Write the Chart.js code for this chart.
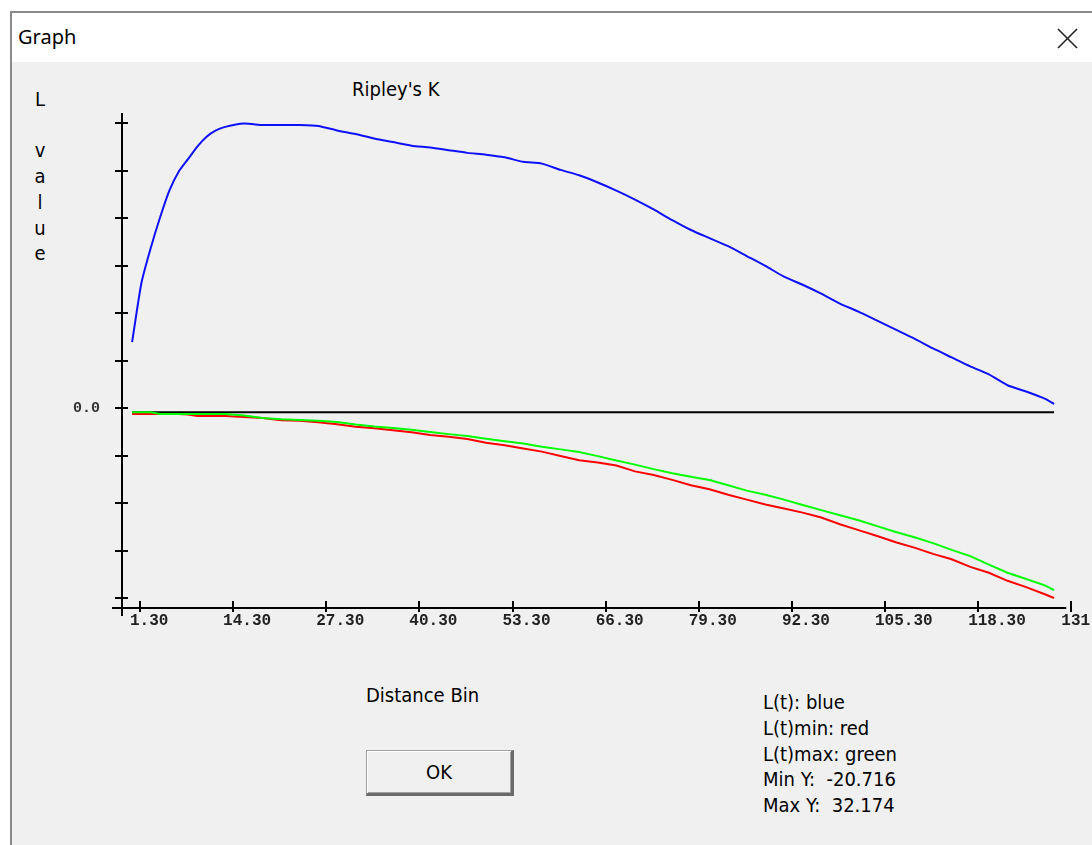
<!DOCTYPE html>
<html>
<head>
<meta charset="utf-8">
<script src="https://cdn.jsdelivr.net/npm/chart.js@4.4.1/dist/chart.umd.min.js"></script>
<style>
html,body{margin:0;padding:0;width:1092px;height:845px;overflow:hidden;background:#ffffff;}
.abs{position:absolute;}
#frame{left:10px;top:11px;width:1100px;height:850px;background:#f0f0f0;border-left:2px solid #8a8a8a;border-top:2px solid #8a8a8a;}
#titlebar{left:12px;top:13px;width:1090px;height:49px;background:#ffffff;}
#wtitle{left:18px;top:23px;font:20px "Noto Sans",sans-serif;color:#000;}
#closex{left:1056px;top:27px;}
.ui{font-family:"DejaVu Sans",sans-serif;font-stretch:condensed;font-size:20px;color:#000;white-space:pre;}
#ctitle{left:352px;top:77px;}
#ylab{left:30px;top:87px;width:20px;text-align:center;line-height:25.7px;}
#xlab{left:366px;top:683px;}
#legend{left:763px;top:690px;line-height:25.8px;}
#okbtn{left:366px;top:750px;width:144px;height:42px;background:#f0f0f0;border-top:1px solid #a0a0a0;border-left:1px solid #a0a0a0;border-right:3px solid #6a6a6a;border-bottom:3px solid #6a6a6a;box-shadow:inset 1px 1px 0 #ffffff, inset -1px -1px 0 #a0a0a0;text-align:center;line-height:42px;}
#c{position:absolute;left:0;top:0;}
</style>
</head>
<body>
<div id="frame" class="abs"></div>
<div id="titlebar" class="abs"></div>
<div id="wtitle" class="abs">Graph</div>
<svg id="closex" class="abs" width="24" height="24"><line x1="2" y1="2" x2="21" y2="21" stroke="#222" stroke-width="1.6"/><line x1="21" y1="2" x2="2" y2="21" stroke="#222" stroke-width="1.6"/></svg>
<div id="ctitle" class="abs ui">Ripley's K</div>
<div id="ylab" class="abs ui">L

v
a
l
u
e</div>
<div id="xlab" class="abs ui">Distance Bin</div>
<div id="legend" class="abs ui">L(t): blue
L(t)min: red
L(t)max: green
Min Y:  -20.716
Max Y:  32.174</div>
<div id="okbtn" class="abs ui">OK</div>
<canvas id="c" width="1092" height="845"></canvas>
<script>
// ---- data ----
const distance = [0.2, 1.5, 2.8, 4.1, 5.4, 6.7, 8.0, 9.3, 10.6, 11.9, 13.2, 15.8, 18.4, 21.0, 23.6, 26.2, 28.8, 31.4, 34.0, 36.6, 39.2, 41.8, 44.4, 47.0, 49.6, 52.2, 54.8, 57.4, 60.0, 62.6, 65.2, 67.8, 70.4, 73.0, 75.6, 78.2, 80.8, 83.4, 86.0, 88.6, 91.2, 93.8, 96.4, 99.0, 101.6, 104.2, 106.8, 109.4, 112.0, 114.6, 117.2, 119.8, 122.4, 125.0, 127.6, 128.9];
const lt = [7.8, 14.4, 18.3, 21.7, 24.7, 26.8, 28.2, 29.6, 30.7, 31.4, 31.8, 32.174, 32.0, 32.0, 32.0, 31.9, 31.4, 31.0, 30.5, 30.1, 29.7, 29.5, 29.2, 28.9, 28.7, 28.4, 27.9, 27.7, 27.0, 26.4, 25.6, 24.7, 23.7, 22.6, 21.4, 20.3, 19.4, 18.5, 17.4, 16.3, 15.1, 14.2, 13.2, 12.1, 11.2, 10.2, 9.2, 8.2, 7.1, 6.1, 5.1, 4.2, 3.0, 2.3, 1.5, 0.9];
const ltMin = [-0.2, -0.2, -0.2, -0.2, -0.2, -0.2, -0.25, -0.42, -0.42, -0.42, -0.42, -0.55, -0.65, -0.9, -0.95, -1.13, -1.35, -1.62, -1.8, -2.02, -2.24, -2.55, -2.75, -3.0, -3.4, -3.7, -4.05, -4.4, -4.88, -5.35, -5.6, -5.95, -6.6, -7.0, -7.55, -8.15, -8.6, -9.2, -9.75, -10.3, -10.75, -11.2, -11.75, -12.5, -13.15, -13.8, -14.5, -15.1, -15.8, -16.4, -17.25, -17.9, -18.8, -19.5, -20.3, -20.716];
const ltMax = [0.0, 0.0, 0.0, -0.2, -0.2, -0.2, -0.2, -0.2, -0.2, -0.2, -0.2, -0.37, -0.65, -0.8, -0.87, -0.95, -1.09, -1.37, -1.6, -1.78, -1.97, -2.2, -2.45, -2.67, -2.97, -3.25, -3.5, -3.85, -4.15, -4.45, -4.9, -5.4, -5.85, -6.35, -6.8, -7.2, -7.57, -8.15, -8.75, -9.2, -9.75, -10.35, -10.92, -11.5, -12.05, -12.7, -13.35, -13.95, -14.6, -15.35, -16.05, -17.0, -17.9, -18.6, -19.3, -19.85];
const xTickValues = [1.3, 14.3, 27.3, 40.3, 53.3, 66.3, 79.3, 92.3, 105.3, 118.3, 131.3];
const xTickLabels = ["1.30", "14.30", "27.30", "40.30", "53.30", "66.30", "79.30", "92.30", "105.30", "118.30", "131.30"];
const yTickValues = [-20.716, -15.427, -10.138, -4.849, 0.440, 5.729, 11.018, 16.307, 21.596, 26.885, 32.174];
const yTickLabels = ["", "", "", "", "0.0", "", "", "", "", "", ""];

const pts = arr => distance.map((d, i) => ({x: d, y: arr[i]}));

const axesPlugin = {
  id: 'winAxes',
  beforeDatasetsDraw(chart) {
    const {ctx, chartArea: a, scales: {x, y}} = chart;
    const seg = (x1, y1, x2, y2) => { ctx.beginPath(); ctx.moveTo(x1, y1); ctx.lineTo(x2, y2); ctx.stroke(); };
    ctx.save();
    ctx.strokeStyle = '#000';
    ctx.lineWidth = 2;
    // y axis
    seg(a.left, a.top, a.left, a.bottom + 8);
    // x axis
    seg(a.left - 10, a.bottom, x.getPixelForValue(130.6), a.bottom);
    // y tick marks
    y.ticks.forEach(t => { const p = Math.round(y.getPixelForValue(t.value)); seg(a.left - 7, p, a.left + 6, p); });
    // x tick marks
    x.ticks.forEach(t => { const p = Math.round(x.getPixelForValue(t.value)); seg(p, a.bottom - 7, p, a.bottom + 4); });
    // zero line
    const z = y.getPixelForValue(0);
    seg(x.getPixelForValue(distance[0]), z, x.getPixelForValue(distance[distance.length - 1]), z);
    ctx.restore();
  }
};

new Chart(document.getElementById('c'), {
  type: 'line',
  data: {
    datasets: [
      {label: 'L(t)max', data: pts(ltMax), borderColor: '#00ff00', borderWidth: 2, pointRadius: 0, tension: 0, fill: false},
      {label: 'L(t)min', data: pts(ltMin), borderColor: '#ff0000', borderWidth: 2, pointRadius: 0, tension: 0, fill: false},
      {label: 'L(t)', data: pts(lt), borderColor: '#1010ff', borderWidth: 2, pointRadius: 0, tension: 0.2, fill: false}
    ]
  },
  options: {
    responsive: false,
    animation: false,
    devicePixelRatio: 1,
    layout: {padding: {left: 0, top: 113, right: 20, bottom: 0}, autoPadding: false},
    plugins: {legend: {display: false}, title: {display: false}, tooltip: {enabled: false}},
    events: [],
    scales: {
      x: {
        type: 'linear', position: 'bottom', min: -1.21, max: 131.4,
        afterBuildTicks: s => { s.ticks = xTickValues.map(v => ({value: v})); },
        afterFit: s => { s.height = 845 - 608; s.paddingLeft = 0; s.paddingRight = 0; },
        grid: {display: false, drawTicks: false},
        border: {display: false},
        ticks: {
          autoSkip: false, maxRotation: 0, minRotation: 0, align: 'start', labelOffset: -10, padding: 3,
          color: '#222', font: {family: '"Liberation Mono", monospace', size: 16, weight: 'bold'},
          callback: (v, i) => xTickLabels[i]
        }
      },
      y: {
        type: 'linear', position: 'left', min: -21.83, max: 33.344,
        afterBuildTicks: s => { s.ticks = yTickValues.map(v => ({value: v})); },
        afterFit: s => { s.width = 122; s.paddingTop = 0; s.paddingBottom = 0; },
        grid: {display: false, drawTicks: false},
        border: {display: false},
        ticks: {
          autoSkip: false, padding: 22,
          color: '#333', font: {family: '"Liberation Mono", monospace', size: 15, weight: 'bold'},
          callback: (v, i) => yTickLabels[i]
        }
      }
    }
  },
  plugins: [axesPlugin]
});
</script>
</body>
</html>
